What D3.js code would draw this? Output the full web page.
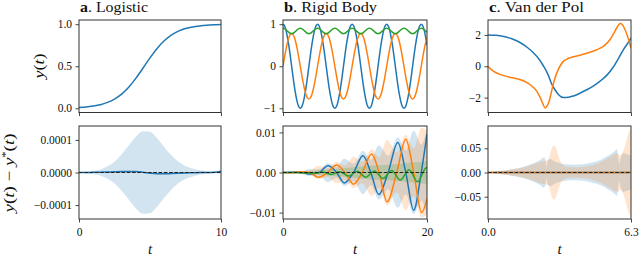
<!DOCTYPE html>
<html>
<head>
<meta charset="UTF-8">
<title>ODE filter: solutions and errors</title>
<script src="https://cdn.jsdelivr.net/npm/d3@7"></script>
<style>
  body { margin: 0; padding: 0; background: #fff; }
</style>
</head>
<body>
<script>
// ---------- a. Logistic ----------
var logisticT = [0, 0.5, 1, 1.5, 2, 2.5, 3, 3.5, 4, 4.5, 5, 5.5, 6, 6.5, 7, 7.5, 8, 8.5, 9, 9.5, 10];
var logisticY = [0.010, 0.016, 0.027, 0.043, 0.070, 0.110, 0.169, 0.251, 0.356, 0.476, 0.600, 0.712, 0.803, 0.871, 0.917, 0.948, 0.968, 0.980, 0.988, 0.993, 0.996];
var logisticErr = [0, 0, 0.0000005, 0.000001, 0.0000015, 0.000002, 0.0000027, 0.0000033, 0.000003, 0.000001, -0.000002, -0.0000038, -0.000004, -0.0000032, -0.0000022, -0.0000013, -0.0000007, -0.0000003, 0, 0.0000008, 0.000004];
var logisticBand = [0.000001, 0.000003, 0.000005, 0.000009, 0.000019, 0.000033, 0.000056, 0.000083, 0.000110, 0.000127, 0.000125, 0.000105, 0.000078, 0.000053, 0.000033, 0.000020, 0.000012, 0.000007, 0.000004, 0.000003, 0.000002];

// ---------- b. Rigid Body (sampled every 0.2) ----------
var rigidY1 = [
  1, .966, .866, .707, .5, .259, 0, -.259, -.5, -.707, -.866, -.966, -1, -.966, -.866, -.707, -.5, -.259, 0, .259, .5, .707, .866, .966,
  1, .966, .866, .707, .5, .259, 0, -.259, -.5, -.707, -.866, -.966, -1, -.966, -.866, -.707, -.5, -.259, 0, .259, .5, .707, .866, .966,
  1, .966, .866, .707, .5, .259, 0, -.259, -.5, -.707, -.866, -.966, -1, -.966, -.866, -.707, -.5, -.259, 0, .259, .5, .707, .866, .966,
  1, .966, .866, .707, .5, .259, 0, -.259, -.5, -.707, -.866, -.966, -1, -.966, -.866, -.707, -.5, -.259, 0, .259, .5, .707, .866, .966,
  1, .966, .866, .707, .5];
var rigidY2 = [
  0, .202, .39, .552, .675, .753, .78, .753, .675, .552, .39, .202, 0, -.202, -.39, -.552, -.675, -.753, -.78, -.753, -.675, -.552, -.39, -.202,
  0, .202, .39, .552, .675, .753, .78, .753, .675, .552, .39, .202, 0, -.202, -.39, -.552, -.675, -.753, -.78, -.753, -.675, -.552, -.39, -.202,
  0, .202, .39, .552, .675, .753, .78, .753, .675, .552, .39, .202, 0, -.202, -.39, -.552, -.675, -.753, -.78, -.753, -.675, -.552, -.39, -.202,
  0, .202, .39, .552, .675, .753, .78, .753, .675, .552, .39, .202, 0, -.202, -.39, -.552, -.675, -.753, -.78, -.753, -.675, -.552, -.39, -.202,
  0, .202, .39, .552, .675];
var rigidY3 = [
  .905, .896, .872, .84, .808, .784, .775, .784, .808, .84, .872, .896,
  .905, .896, .872, .84, .808, .784, .775, .784, .808, .84, .872, .896,
  .905, .896, .872, .84, .808, .784, .775, .784, .808, .84, .872, .896,
  .905, .896, .872, .84, .808, .784, .775, .784, .808, .84, .872, .896,
  .905, .896, .872, .84, .808, .784, .775, .784, .808, .84, .872, .896,
  .905, .896, .872, .84, .808, .784, .775, .784, .808, .84, .872, .896,
  .905, .896, .872, .84, .808, .784, .775, .784, .808, .84, .872, .896,
  .905, .896, .872, .84, .808, .784, .775, .784, .808, .84, .872, .896,
  .905, .896, .872, .84, .808];

var rigidErr1T = [0, 1.4, 2.6, 3.7, 5.0, 6.25, 7.45, 8.5, 9.8, 11.1, 12.2, 13.3, 14.6, 15.95, 17.05, 18.15, 19.2, 20];
var rigidErr1 = [0, 0.00008, 0, -0.0004, 0, 0.0017, 0, -0.0026, 0, 0.0042, 0, -0.0055, 0, 0.0075, 0, -0.0094, 0, 0.0096];
var rigidBand1 = [0, 0.0002, 0.0003, 0.0009, 0.0008, 0.0024, 0.0014, 0.0034, 0.0022, 0.0054, 0.0032, 0.0068, 0.0042, 0.0088, 0.0055, 0.0104, 0.007, 0.0112];

var rigidErr2T = [0, 1.2, 2.6, 3.7, 4.9, 6.2, 7.45, 8.6, 9.8, 11.0, 12.3, 13.35, 14.45, 15.8, 17.05, 18.15, 19.25, 20];
var rigidErr2 = [0, -0.00005, 0.0002, 0, -0.0012, 0, 0.0019, 0, -0.0029, 0, 0.0046, 0, -0.0073, 0, 0.0083, 0, -0.0100, -0.0066];
var rigidBand2 = [0, 0.0002, 0.0004, 0.0005, 0.0017, 0.0011, 0.0027, 0.0018, 0.0039, 0.0027, 0.0058, 0.0038, 0.0081, 0.005, 0.0094, 0.006, 0.0112, 0.0104];

var rigidErr3T = [0, 2, 4.3, 5.5, 6.7, 7.9, 9.1, 10.3, 11.5, 12.7, 13.9, 15.1, 16.3, 17.5, 18.7, 19.9, 20];
var rigidErr3 = [0, 0, -0.0002, 0.0001, -0.0005, 0.0002, -0.0009, 0.0003, -0.0012, 0.0004, -0.0015, 0.0005, -0.0019, 0.0007, -0.0023, 0.0012, 0.0012];
var rigidBand3T = [0, 4, 6.7, 9.1, 11.5, 13.9, 16.3, 18.7, 20];
var rigidBand3 = [0, 0.0004, 0.0008, 0.0012, 0.0016, 0.0019, 0.0022, 0.0026, 0.0028];

// ---------- c. Van der Pol ----------
var vdpY1T = [0, 0.35, 0.7, 1.05, 1.43, 1.75, 2.0, 2.25, 2.45, 2.65, 2.81, 2.95, 3.1, 3.32, 3.55, 3.76, 4.05, 4.35, 4.65, 4.94, 5.25, 5.52, 5.75, 5.96, 6.15, 6.3];
var vdpY1 = [2.0, 1.98, 1.9, 1.75, 1.5, 1.18, 0.86, 0.45, 0.0, -0.55, -1.15, -1.5, -1.8, -2.0, -1.97, -1.9, -1.72, -1.5, -1.25, -0.95, -0.55, -0.05, 0.5, 1.05, 1.45, 1.8];
var vdpY2T = [0, 0.1, 0.25, 0.5, 0.7, 1.0, 1.43, 1.7, 1.86, 2.0, 2.15, 2.3, 2.42, 2.52, 2.6, 2.7, 2.8, 2.88, 3.0, 3.1, 3.2, 3.32, 3.5, 3.76, 4.05, 4.35, 4.65, 4.94, 5.15, 5.37, 5.52, 5.67, 5.76, 5.84, 5.92, 6.04, 6.15, 6.3];
var vdpY2 = [0, -0.15, -0.33, -0.5, -0.6, -0.72, -0.86, -1.03, -1.18, -1.35, -1.6, -2.0, -2.4, -2.67, -2.55, -2.2, -1.6, -1.1, -0.55, -0.2, 0.08, 0.31, 0.48, 0.6, 0.7, 0.83, 0.97, 1.15, 1.35, 1.69, 2.05, 2.44, 2.65, 2.72, 2.65, 2.33, 1.9, 1.16];
var vdpErrT = [0, 6.3];
var vdpErr1 = [0, 0];
var vdpErr2 = [0, 0];
var vdpBand1T = [0, 0.5, 1.0, 1.5, 2.0, 2.3, 2.45, 2.52, 2.58, 2.64, 2.75, 2.9, 3.1, 3.4, 3.8, 4.2, 4.6, 5.0, 5.3, 5.55, 5.68, 5.74, 5.78, 5.84, 5.95, 6.1, 6.3];
var vdpBand1 = [0, 0.003, 0.006, 0.011, 0.019, 0.026, 0.031, 0.028, 0.012, 0.026, 0.028, 0.024, 0.02, 0.017, 0.016, 0.017, 0.021, 0.027, 0.035, 0.043, 0.048, 0.03, 0.018, 0.03, 0.04, 0.038, 0.035];
var vdpBand2T = [0, 0.5, 1.0, 1.5, 2.0, 2.3, 2.5, 2.65, 2.75, 2.85, 2.92, 3.0, 3.1, 3.2, 3.35, 3.6, 4.0, 4.5, 5.0, 5.4, 5.7, 5.85, 6.0, 6.12, 6.22, 6.3];
var vdpBand2 = [0, 0.003, 0.006, 0.01, 0.017, 0.022, 0.024, 0.026, 0.04, 0.054, 0.056, 0.05, 0.035, 0.022, 0.014, 0.011, 0.011, 0.014, 0.022, 0.033, 0.04, 0.035, 0.05, 0.07, 0.085, 0.09];

// ---------- labels / ticks ----------
var titles = [["a", ". Logistic"], ["b", ". Rigid Body"], ["c", ". Van der Pol"]];
var titleWidths = [68, 93, 95];
var xTicks = [[0, 10], [0, 20], [0, 6.3]];
var xTickLabels = [["0", "10"], ["0", "20"], ["0.0", "6.3"]];
var topYTicks = [[0, 0.5, 1], [-1, 0, 1], [-2, 0, 2]];
var topYLabels = [["0.0", "0.5", "1.0"], ["\u22121", "0", "1"], ["\u22122", "0", "2"]];
var botYTicks = [[-0.0001, 0, 0.0001], [-0.01, 0, 0.01], [-0.05, 0, 0.05]];
var botYLabels = [["\u22120.0001", "0.0000", "0.0001"], ["\u22120.01", "0.00", "0.01"], ["\u22120.05", "0.00", "0.05"]];
var topYDomains = [[-0.05, 1.05], [-1.1, 1.1], [-2.95, 2.95]];
var botYDomains = [[-0.000143, 0.000143], [-0.0116, 0.0116], [-0.096, 0.096]];

var colors = ["#1f77b4", "#ff7f0e", "#2ca02c"];
var FONT = "Liberation Serif";

// ---------- layout ----------
var W = 640, H = 257;
var colX = [[79, 221], [283, 427], [488, 631]];
var topY = [20, 112.5], botY = [126, 219];

var svg = d3.select("body").append("svg")
  .attr("width", W).attr("height", H)
  .attr("viewBox", "0 0 " + W + " " + H);

function zip(t, v) { return t.map(function (d, i) { return [d, v[i]]; }); }

var rigidT = d3.range(0, 20.0001, 0.2);

var tops = [
  { lines: [zip(logisticT, logisticY)] },
  { lines: [zip(rigidT, rigidY1), zip(rigidT, rigidY2), zip(rigidT, rigidY3)] },
  { lines: [zip(vdpY1T, vdpY1), zip(vdpY2T, vdpY2)] }
];
var bots = [
  { bands: [zip(logisticT, logisticBand)], lines: [zip(logisticT, logisticErr)] },
  { bands: [zip(rigidErr1T, rigidBand1), zip(rigidErr2T, rigidBand2), zip(rigidBand3T, rigidBand3)],
    lines: [zip(rigidErr1T, rigidErr1), zip(rigidErr2T, rigidErr2), zip(rigidErr3T, rigidErr3)] },
  { bands: [zip(vdpBand1T, vdpBand1), zip(vdpBand2T, vdpBand2)],
    lines: [zip(vdpErrT, vdpErr1), zip(vdpErrT, vdpErr2)] }
];

var clipId = 0;
function drawPanel(col, rows, yDom, ticksY, labelsY, spec, isBottom) {
  var x = d3.scaleLinear().domain([0, xTicks[col][1]]).range(colX[col]);
  var y = d3.scaleLinear().domain(yDom).range([rows[1], rows[0]]);
  var g = svg.append("g");
  var id = "clip" + (clipId++);
  g.append("clipPath").attr("id", id).append("rect")
    .attr("x", colX[col][0]).attr("y", rows[0])
    .attr("width", colX[col][1] - colX[col][0]).attr("height", rows[1] - rows[0]);
  var plot = g.append("g").attr("clip-path", "url(#" + id + ")");

  var area = d3.area().x(function (d) { return x(d[0]); })
    .y0(function (d) { return y(-d[1]); }).y1(function (d) { return y(d[1]); })
    .curve(d3.curveMonotoneX);
  var line = d3.line().x(function (d) { return x(d[0]); }).y(function (d) { return y(d[1]); })
    .curve(col == 1 && !isBottom ? d3.curveCatmullRom : d3.curveMonotoneX);

  (spec.bands || []).forEach(function (b, i) {
    plot.append("path").attr("d", area(b)).attr("fill", colors[i]).attr("fill-opacity", 0.2);
  });
  spec.lines.forEach(function (l, i) {
    plot.append("path").attr("d", line(l)).attr("fill", "none")
      .attr("stroke", colors[i]).attr("stroke-width", 1.5);
  });
  if (isBottom) {
    plot.append("line").attr("x1", x(0)).attr("x2", x(xTicks[col][1]))
      .attr("y1", y(0)).attr("y2", y(0))
      .attr("stroke", "#222").attr("stroke-width", 1).attr("stroke-dasharray", "3.7,1.6");
  }

  var ax = d3.axisLeft(y).tickValues(ticksY).tickSize(3.5).tickPadding(3.5)
    .tickFormat(function (d, i) { return labelsY[i]; });
  var gy = g.append("g").attr("transform", "translate(" + colX[col][0] + ",0)").call(ax);
  var axb = d3.axisBottom(x).tickValues(xTicks[col]).tickSize(3.5).tickPadding(5)
    .tickFormat(function (d, i) { return isBottom ? xTickLabels[col][i] : ""; });
  var gx = g.append("g").attr("transform", "translate(0," + rows[1] + ")").call(axb);
  [gy, gx].forEach(function (a) {
    a.attr("font-family", FONT);
    a.select(".domain").remove();
    a.selectAll("line").attr("stroke", "#333").attr("stroke-width", 0.9);
    a.selectAll("text").attr("font-size", 11.5).attr("fill", "#111").style("font-family", FONT);
  });

  g.append("rect").attr("x", colX[col][0]).attr("y", rows[0])
    .attr("width", colX[col][1] - colX[col][0]).attr("height", rows[1] - rows[0])
    .attr("fill", "none").attr("stroke", "#333").attr("stroke-width", 1);
}

for (var c = 0; c < 3; c++) {
  drawPanel(c, topY, topYDomains[c], topYTicks[c], topYLabels[c], tops[c], false);
  drawPanel(c, botY, botYDomains[c], botYTicks[c], botYLabels[c], bots[c], true);

  var tt = svg.append("text").attr("x", colX[c][0] + 1).attr("y", 11.5).attr("font-size", 14)
    .style("font-family", FONT).attr("fill", "#111")
    .attr("textLength", titleWidths[c]).attr("lengthAdjust", "spacingAndGlyphs");
  tt.append("tspan").attr("font-weight", "bold").text(titles[c][0]);
  tt.append("tspan").text(titles[c][1]);

  svg.append("text").attr("x", (colX[c][0] + colX[c][1]) / 2).attr("y", 254)
    .style("font-family", FONT).attr("fill", "#111")
    .attr("text-anchor", "middle").attr("font-size", 15).attr("font-style", "italic").text("t");
}

// y labels
var yl1 = svg.append("text").attr("transform", "translate(44,66) rotate(-90)")
  .style("font-family", FONT).attr("fill", "#111")
  .attr("text-anchor", "middle").attr("font-size", 15)
  .attr("textLength", 25).attr("lengthAdjust", "spacingAndGlyphs");
yl1.append("tspan").attr("font-style", "italic").text("y");
yl1.append("tspan").text("(");
yl1.append("tspan").attr("font-style", "italic").text("t");
yl1.append("tspan").text(")");

var yl2 = svg.append("text").attr("transform", "translate(14,173) rotate(-90)")
  .style("font-family", FONT).attr("fill", "#111")
  .attr("text-anchor", "middle").attr("font-size", 15)
  .attr("textLength", 79).attr("lengthAdjust", "spacingAndGlyphs");
yl2.append("tspan").attr("font-style", "italic").text("y");
yl2.append("tspan").text("(");
yl2.append("tspan").attr("font-style", "italic").text("t");
yl2.append("tspan").text(") \u2212 ");
yl2.append("tspan").attr("font-style", "italic").text("y");
yl2.append("tspan").attr("font-size", 10).attr("dy", -5).text("*");
yl2.append("tspan").attr("dy", 5).text("(");
yl2.append("tspan").attr("font-style", "italic").text("t");
yl2.append("tspan").text(")");
</script>
</body>
</html>
